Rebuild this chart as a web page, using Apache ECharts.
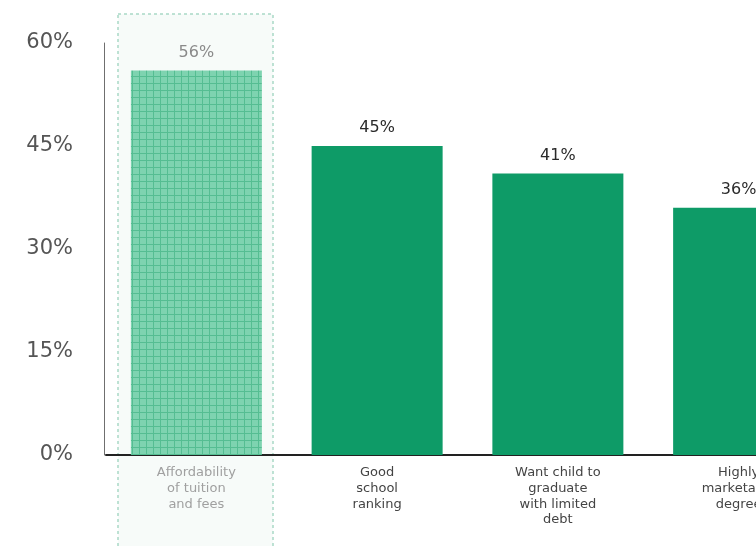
<!DOCTYPE html>
<html>
<head>
<meta charset="utf-8">
<script src="https://cdn.jsdelivr.net/npm/echarts@6/dist/echarts.min.js"></script>
<style>
  html, body { margin: 0; padding: 0; background: #fff; overflow: hidden; }
  #chart { width: 829px; height: 546px; }
</style>
</head>
<body>
<div id="chart"></div>
<script>
// data
const categories = [
  'Affordability\nof tuition\nand fees',
  'Good\nschool\nranking',
  'Want child to\ngraduate\nwith limited\ndebt',
  'Highly\nmarketable\ndegree'
];
const values = [56, 45, 41, 36];
const highlightIdx = 0;
const yTicks = [0, 15, 30, 45, 60];

// checkered fill for the highlighted bar
function makePattern() {
  const c = document.createElement('canvas');
  c.width = 7; c.height = 7;
  const ctx = c.getContext('2d');
  ctx.fillStyle = '#7ed3b0';
  ctx.fillRect(0, 0, 7, 7);
  ctx.fillStyle = '#55bd92';
  ctx.fillRect(6, 0, 1, 7);
  ctx.fillRect(0, 6, 7, 1);
  return c;
}
const pattern = makePattern();

const chart = echarts.init(document.getElementById('chart'), null, { renderer: 'canvas' });

const option = {
  backgroundColor: '#ffffff',
  animation: false,
  textStyle: { fontFamily: '"DejaVu Sans", sans-serif' },
  grid: { left: 106, right: 0, top: 43, bottom: 91 },
  graphic: [{
    type: 'rect',
    z: 0,
    shape: { x: 118, y: 14, width: 155, height: 540 },
    style: { fill: '#f7fbf9', stroke: '#a9d9c6', lineWidth: 1.5, lineDash: [3, 3] }
  }],
  xAxis: {
    type: 'category',
    data: categories,
    axisLine: { show: true, lineStyle: { color: '#222', width: 2 } },
    axisTick: { show: false },
    axisLabel: {
      margin: 10,
      fontSize: 13,
      lineHeight: 15.7,
      interval: 0,
      color: (v, i) => i === highlightIdx ? '#a0a0a0' : '#444'
    }
  },
  yAxis: {
    type: 'value',
    min: yTicks[0],
    max: yTicks[yTicks.length - 1],
    interval: 15,
    offset: 2,
    axisLine: { show: true, lineStyle: { color: '#6f6f6f', width: 1 } },
    axisTick: { show: false },
    splitLine: { show: false },
    axisLabel: {
      margin: 31,
      fontSize: 21,
      color: '#555',
      formatter: v => v + '%'
    }
  },
  series: [{
    type: 'bar',
    z: 2,
    barWidth: 131,
    data: values.map((v, i) => ({
      value: v,
      itemStyle: {
        color: i === highlightIdx ? { image: pattern, repeat: 'repeat' } : '#0e9b67'
      },
      label: { color: i === highlightIdx ? '#8a8a8a' : '#2a2a2a' }
    })),
    label: {
      show: true,
      position: 'top',
      distance: 10,
      fontSize: 16,
      formatter: p => p.value + '%'
    }
  }]
};

chart.setOption(option);
</script>
</body>
</html>
